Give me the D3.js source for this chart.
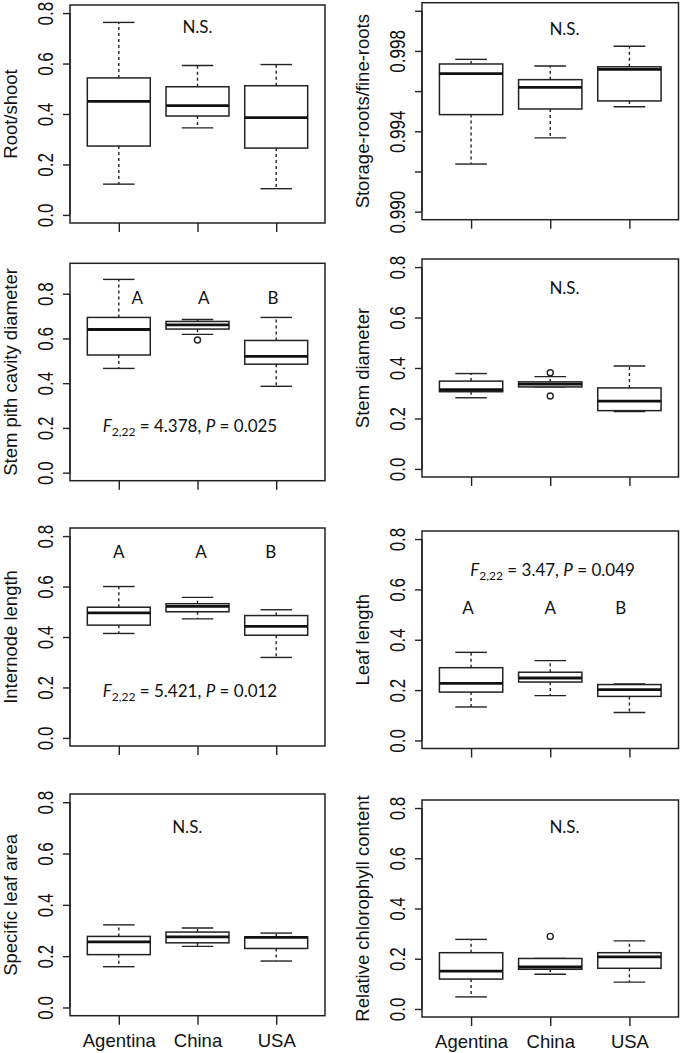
<!DOCTYPE html>
<html>
<head>
<meta charset="utf-8">
<script src="https://cdn.jsdelivr.net/npm/d3@7"></script>
<style>
  body { margin: 0; background: #fff; }
  svg { display: block; }
  .lab { font-family: "Liberation Sans", Arial, sans-serif; fill: #111; }
  .note { font-family: Lato, "Open Sans", sans-serif; font-size: 17px; fill: #111; }
</style>
</head>
<body>
<script>
var groups = ["Agentina", "China", "USA"];

// per group: [whisker low, Q1, median, Q3, whisker high]
var rootShoot   = [[0.122, 0.273, 0.450, 0.543, 0.763], [0.345, 0.392, 0.433, 0.508, 0.592], [0.104, 0.265, 0.386, 0.512, 0.596]];
var storageFine = [[0.99237, 0.99483, 0.99687, 0.99735, 0.99758], [0.99367, 0.99511, 0.99619, 0.99657, 0.99725], [0.99522, 0.99551, 0.99708, 0.99721, 0.99823]];
var pithCavity  = [[0.466, 0.526, 0.640, 0.694, 0.864], [0.618, 0.642, 0.661, 0.676, 0.685], [0.386, 0.485, 0.520, 0.591, 0.694]];
var stemDiam    = [[0.282, 0.306, 0.314, 0.348, 0.378], [0.325, 0.325, 0.336, 0.345, 0.366], [0.227, 0.231, 0.269, 0.321, 0.408]];
var internode   = [[0.414, 0.447, 0.496, 0.518, 0.600], [0.472, 0.500, 0.521, 0.532, 0.557], [0.319, 0.407, 0.442, 0.485, 0.508]];
var leafLen     = [[0.133, 0.192, 0.227, 0.289, 0.350], [0.178, 0.232, 0.248, 0.271, 0.317], [0.111, 0.175, 0.202, 0.222, 0.224]];
var leafArea    = [[0.159, 0.206, 0.256, 0.277, 0.322], [0.238, 0.252, 0.275, 0.294, 0.310], [0.181, 0.230, 0.273, 0.275, 0.290]];
var chloro      = [[0.048, 0.119, 0.151, 0.224, 0.277], [0.138, 0.158, 0.167, 0.201, 0.201], [0.107, 0.162, 0.207, 0.224, 0.271]];

// outliers per group
var pithOut   = [[], [0.593], []];
var stemOut   = [[], [0.381, 0.289], []];
var chloroOut = [[], [0.289], []];
var noOut     = [[], [], []];

var ticks08 = [0, 0.2, 0.4, 0.6, 0.8];
var ticksRatio = [0.990, 0.992, 0.994, 0.996, 0.998, 1.000];
var ratioLabelled = [0.990, 0.994, 0.998];

var W = 681, H = 1053;
var svg = d3.select("body").append("svg").attr("width", W).attr("height", H);

// layout of the 8 panels (box edges in px)
var panels = [
  { x0: 70,  y0: 5,     h: 218, label: "Root/shoot", stats: rootShoot, out: noOut, lim: [0, 0.8], ticks: ticks08,
    notes: [{ t: "N.S.", x: 2.0, y: 0.72 }] },
  { x0: 422, y0: 2.7,   h: 217, label: "Storage-roots/fine-roots", stats: storageFine, out: noOut, lim: [0.990, 1.000], ticks: ticksRatio, ratio: true,
    notes: [{ t: "N.S.", x: 2.18, y: 0.99879 }] },
  { x0: 70,  y0: 263.3, h: 217.4, label: "Stem pith cavity diameter", stats: pithCavity, out: pithOut, lim: [0, 0.9], ticks: ticks08,
    notes: [{ t: "A", x: 1.235, y: 0.755 }, { t: "A", x: 2.08, y: 0.755 }, { t: "B", x: 2.96, y: 0.755 }],
    stat: { x: 1.905, y: 0.181, f: "4.378", p: "0.025" } },
  { x0: 422, y0: 259,   h: 218, label: "Stem diameter", stats: stemDiam, out: stemOut, lim: [0, 0.8], ticks: ticks08,
    notes: [{ t: "N.S.", x: 2.18, y: 0.695 }] },
  { x0: 70,  y0: 528,   h: 218, label: "Internode length", stats: internode, out: noOut, lim: [0, 0.8], ticks: ticks08,
    notes: [{ t: "A", x: 1.0, y: 0.712 }, { t: "A", x: 2.044, y: 0.712 }, { t: "B", x: 2.93, y: 0.712 }],
    stat: { x: 1.905, y: 0.163, f: "5.421", p: "0.012" } },
  { x0: 422, y0: 531,   h: 217.5, label: "Leaf length", stats: leafLen, out: noOut, lim: [0, 0.8], ticks: ticks08,
    notes: [{ t: "A", x: 0.96, y: 0.504 }, { t: "A", x: 2.0, y: 0.504 }, { t: "B", x: 2.89, y: 0.504 }],
    stat: { x: 2.03, y: 0.652, f: "3.47", p: "0.049" } },
  { x0: 70,  y0: 794,   h: 221.7, label: "Specific leaf area", stats: leafArea, out: noOut, lim: [0, 0.8], ticks: ticks08, bottom: true,
    notes: [{ t: "N.S.", x: 1.87, y: 0.679 }] },
  { x0: 422, y0: 800,   h: 217, label: "Relative chlorophyll content", stats: chloro, out: chloroOut, lim: [0, 0.8], ticks: ticks08, bottom: true,
    notes: [{ t: "N.S.", x: 2.18, y: 0.70 }] }
];

var stretch = 1.3; // tick labels look widened in the original

panels.forEach(function(p) {
  var w = p.x0 < 200 ? 255 : 256.5;
  var pad = (p.lim[1] - p.lim[0]) * 0.04;
  var x = d3.scaleLinear().domain([0.38, 3.62]).range([p.x0, p.x0 + w]);
  var y = d3.scaleLinear().domain([p.lim[0] - pad, p.lim[1] + pad]).range([p.y0 + p.h, p.y0]);
  var g = svg.append("g");

  // y axis
  var fmt = p.ratio ? function(d) { return ratioLabelled.indexOf(d) >= 0 ? d3.format(".3f")(d) : ""; }
                    : d3.format(".1f");
  var ya = g.append("g").attr("transform", "translate(" + p.x0 + ",0)")
    .call(d3.axisLeft(y).tickValues(p.ticks).tickSize(7).tickFormat(fmt));
  ya.select(".domain").remove();
  ya.selectAll("line").attr("stroke", "#222").attr("stroke-width", 1.4);
  ya.selectAll("text")
    .attr("class", "lab").style("font-size", "17px")
    .attr("transform", "rotate(-90) scale(1," + stretch + ")")
    .attr("x", 0).attr("y", -17 / stretch).attr("dy", 0)
    .attr("text-anchor", "middle").attr("fill", "#111");
  ya.append("line")
    .attr("x1", 0).attr("x2", 0)
    .attr("y1", y(p.ticks[0])).attr("y2", y(p.ticks[p.ticks.length - 1]))
    .attr("stroke", "#222").attr("stroke-width", 1.4);

  // x axis
  var xa = g.append("g").attr("transform", "translate(0," + (p.y0 + p.h) + ")")
    .call(d3.axisBottom(x).tickValues([1, 2, 3]).tickSize(9)
      .tickFormat(function(d) { return p.bottom ? groups[d - 1] : ""; }));
  xa.select(".domain").remove();
  xa.selectAll("line").attr("stroke", "#222").attr("stroke-width", 1.4);
  xa.selectAll("text").attr("class", "lab").style("font-size", "18.5px")
    .attr("y", 31).attr("dy", 0).attr("fill", "#111");

  // y label
  g.append("text").attr("class", "lab").style("font-size", "18.5px")
    .attr("text-anchor", "middle")
    .attr("transform", "translate(" + (p.x0 - 53) + "," + (p.y0 + p.h / 2) + ") rotate(-90)")
    .text(p.label);

  // boxes
  var bw = 0.4, sw = 0.2;
  var b = g.selectAll(".bx").data(p.stats).enter().append("g").attr("class", "bx");
  b.append("line").attr("class", "wh")
    .attr("x1", function(d, i) { return x(i + 1); }).attr("x2", function(d, i) { return x(i + 1); })
    .attr("y1", function(d) { return y(d[3]); }).attr("y2", function(d) { return y(d[4]); });
  b.append("line").attr("class", "wh")
    .attr("x1", function(d, i) { return x(i + 1); }).attr("x2", function(d, i) { return x(i + 1); })
    .attr("y1", function(d) { return y(d[1]); }).attr("y2", function(d) { return y(d[0]); });
  b.selectAll(".wh").attr("stroke", "#222").attr("stroke-width", 1.4).attr("stroke-dasharray", "3,3");
  [0, 4].forEach(function(k) {
    b.append("line")
      .attr("x1", function(d, i) { return x(i + 1 - sw); }).attr("x2", function(d, i) { return x(i + 1 + sw); })
      .attr("y1", function(d) { return y(d[k]); }).attr("y2", function(d) { return y(d[k]); })
      .attr("stroke", "#222").attr("stroke-width", 1.4);
  });
  b.append("rect")
    .attr("x", function(d, i) { return x(i + 1 - bw); })
    .attr("width", function(d, i) { return x(i + 1 + bw) - x(i + 1 - bw); })
    .attr("y", function(d) { return y(d[3]); })
    .attr("height", function(d) { return y(d[1]) - y(d[3]); })
    .attr("fill", "#fff").attr("stroke", "#222").attr("stroke-width", 1.5);
  b.append("line")
    .attr("x1", function(d, i) { return x(i + 1 - bw); }).attr("x2", function(d, i) { return x(i + 1 + bw); })
    .attr("y1", function(d) { return y(d[2]); }).attr("y2", function(d) { return y(d[2]); })
    .attr("stroke", "#111").attr("stroke-width", 2.8);

  // outliers
  p.out.forEach(function(vals, i) {
    g.selectAll(null).data(vals).enter().append("circle")
      .attr("cx", x(i + 1)).attr("cy", function(v) { return y(v); }).attr("r", 3)
      .attr("fill", "#fff").attr("stroke", "#222").attr("stroke-width", 1.4);
  });

  // plot frame
  g.append("rect").attr("x", p.x0).attr("y", p.y0).attr("width", w).attr("height", p.h)
    .attr("fill", "none").attr("stroke", "#222").attr("stroke-width", 1.5);

  // annotations
  p.notes.forEach(function(n) {
    g.append("text").attr("class", "note").attr("text-anchor", "middle")
      .attr("x", x(n.x)).attr("y", y(n.y)).text(n.t);
  });
  if (p.stat) {
    var t = g.append("text").attr("class", "note").attr("text-anchor", "middle")
      .attr("x", x(p.stat.x)).attr("y", y(p.stat.y));
    t.append("tspan").style("font-style", "italic").text("F");
    t.append("tspan").style("font-size", "12px").attr("dy", 4).text("2,22");
    t.append("tspan").attr("dy", -4).text(" = " + p.stat.f + ", ");
    t.append("tspan").style("font-style", "italic").text("P");
    t.append("tspan").text(" = " + p.stat.p);
  }
});
</script>
</body>
</html>
